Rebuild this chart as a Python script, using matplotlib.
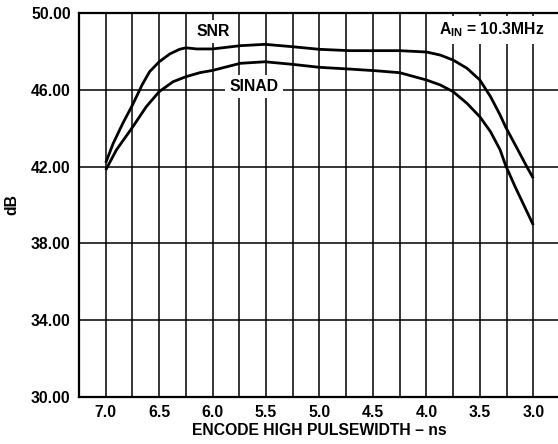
import matplotlib
matplotlib.use("Agg")
import matplotlib.pyplot as plt

plt.rcParams['font.family'] = ['Liberation Sans', 'DejaVu Sans']
plt.rcParams['font.weight'] = 'bold'
plt.rcParams['mathtext.fontset'] = 'custom'
plt.rcParams['mathtext.rm'] = 'Liberation Sans:bold'
plt.rcParams['mathtext.bf'] = 'Liberation Sans:bold'
plt.rcParams['mathtext.it'] = 'Liberation Sans:bold'

# data
pulse_snr = [7.0, 6.93, 6.84, 6.75, 6.66, 6.59, 6.5, 6.4, 6.31, 6.25, 6.15,
             6.0, 5.74, 5.51, 5.26, 5.0, 4.72, 4.47, 4.25, 4.0, 3.87, 3.75,
             3.62, 3.5, 3.4, 3.31, 3.26, 3.16, 3.06, 3.0]
snr = [42.2, 43.21, 44.26, 45.21, 46.26, 46.95, 47.47, 47.88, 48.12, 48.2, 48.14,
       48.14, 48.31, 48.38, 48.26, 48.12, 48.05, 48.05, 48.05, 47.98, 47.82, 47.56,
       47.13, 46.52, 45.65, 44.69, 44.08, 43.04, 41.99, 41.39]

pulse_sinad = [7.0, 6.9, 6.75, 6.62, 6.5, 6.37, 6.25, 6.12, 6.0, 5.74, 5.51,
               5.26, 5.0, 4.72, 4.47, 4.25, 4.0, 3.87, 3.75, 3.62, 3.5, 3.4,
               3.31, 3.26, 3.17, 3.0]
sinad = [41.82, 42.87, 44.05, 45.13, 45.91, 46.43, 46.69, 46.9, 47.02, 47.39, 47.47,
         47.34, 47.18, 47.09, 47.0, 46.9, 46.52, 46.26, 45.91, 45.3, 44.6, 43.82,
         42.87, 42.08, 40.95, 38.95]

xticks = [7.0, 6.5, 6.0, 5.5, 5.0, 4.5, 4.0, 3.5, 3.0]
xtick_labels = ["7.0", "6.5", "6.0", "5.5", "5.0", "4.5", "4.0", "3.5", "3.0"]
xminor = [7.25, 6.75, 6.25, 5.75, 5.25, 4.75, 4.25, 3.75, 3.25, 2.75]
yticks = [30, 34, 38, 42, 46, 50]
ytick_labels = ["30.00", "34.00", "38.00", "42.00", "46.00", "50.00"]

FS = 11.3

fig = plt.figure(figsize=(5.58, 4.44), dpi=100)
ax = fig.add_axes([79/558, (444-396.5)/444, (560-79)/558, (396.5-13.3)/444])

ax.set_xlim(7.25, 2.75)
ax.set_ylim(30, 50)
ax.set_xticks(xticks)
ax.set_xticklabels(xtick_labels)
ax.set_xticks(xminor, minor=True)
ax.set_yticks(yticks)
ax.set_yticklabels(ytick_labels)

ax.grid(True, which='both', axis='x', color='black', linewidth=1.1)
ax.grid(True, which='major', axis='y', color='black', linewidth=1.1)
ax.set_axisbelow(True)

ax.tick_params(which='both', length=0, labelsize=FS)
ax.tick_params(axis='x', pad=6)
ax.tick_params(axis='y', pad=6)
for s in ax.spines.values():
    s.set_linewidth(1.6)

ax.plot(pulse_snr, snr, color='black', linewidth=2.0, zorder=3,
        solid_joinstyle='round', solid_capstyle='butt')
ax.plot(pulse_sinad, sinad, color='black', linewidth=2.0, zorder=3,
        solid_joinstyle='round', solid_capstyle='butt')

bbox = dict(facecolor='white', edgecolor='none', pad=3)
ax.text(5.994, 49.04, "SNR", fontsize=FS, fontweight='bold', ha='center', va='center', bbox=bbox, zorder=4)
ax.text(5.613, 46.17, "SINAD", fontsize=FS, fontweight='bold', ha='center', va='center', bbox=bbox, zorder=4)
ax.text(3.387, 49.13, r"$\mathbf{A_{IN}}$ = 10.3MHz", fontsize=FS, fontweight='bold',
        ha='center', va='center', bbox=bbox, zorder=4)

ax.set_xlabel("ENCODE HIGH PULSEWIDTH – ns", fontsize=FS, fontweight='bold', labelpad=2)
ax.set_ylabel("dB", fontsize=FS, fontweight='bold', labelpad=8)

fig.savefig("out.png", dpi=100)
